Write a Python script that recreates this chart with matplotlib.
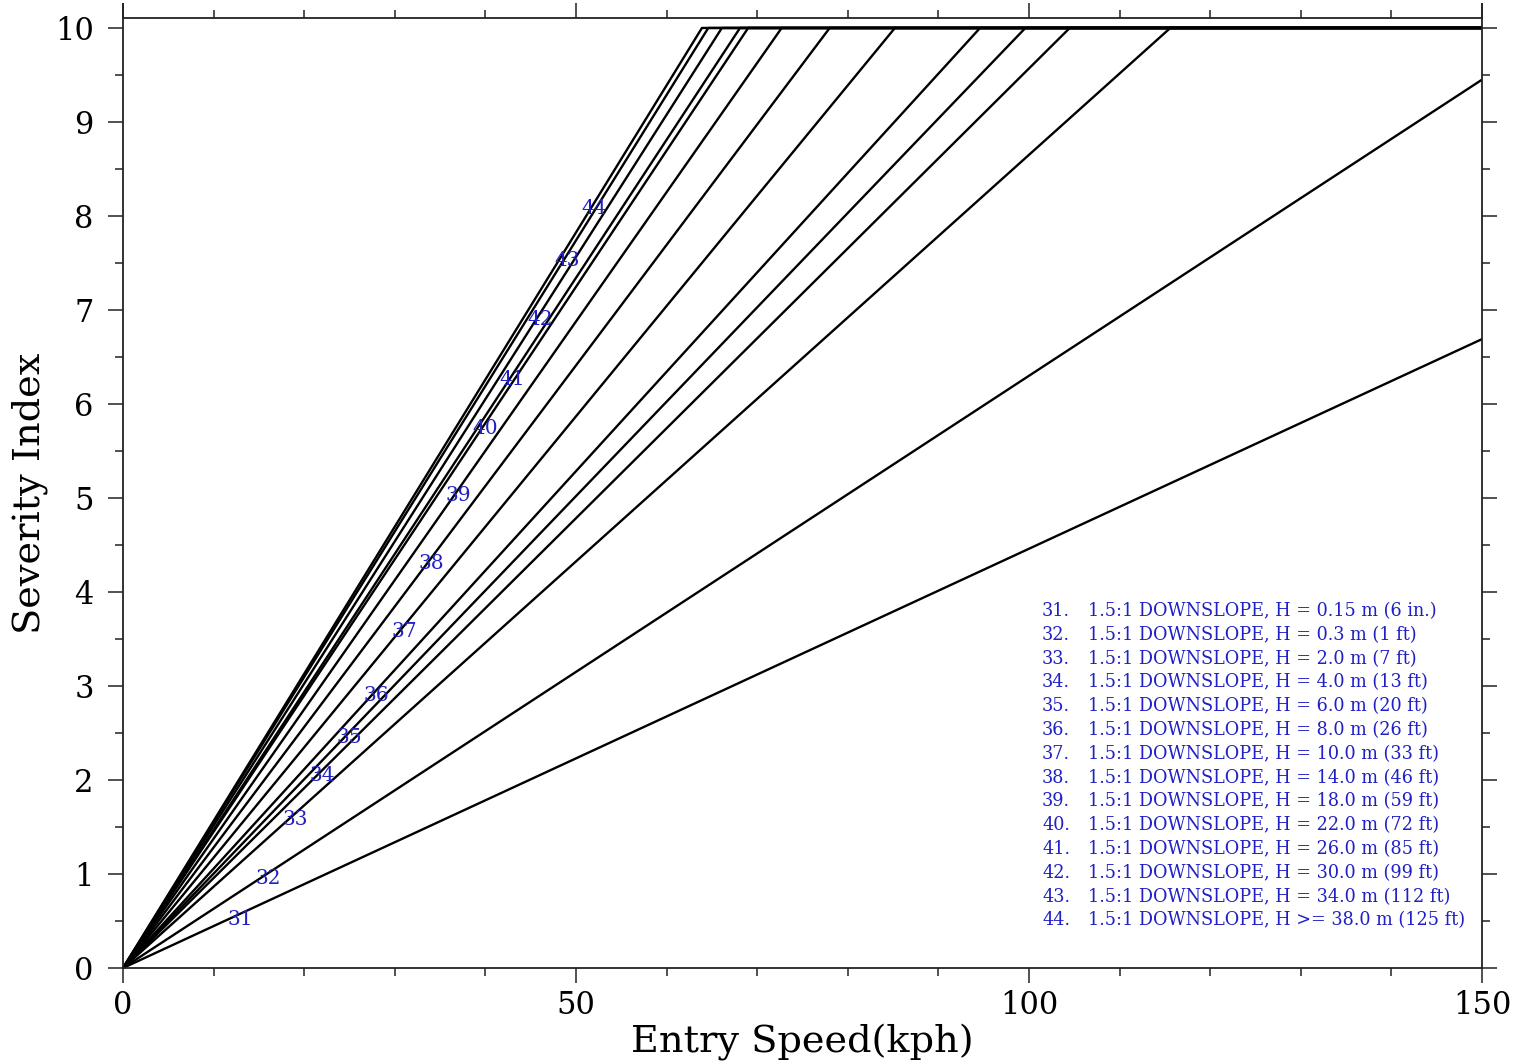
import numpy as np
import matplotlib
matplotlib.use("Agg")
import matplotlib.pyplot as plt
from matplotlib.ticker import MultipleLocator

# ---- data ----
curve_ids = [31, 32, 33, 34, 35, 36, 37, 38, 39, 40, 41, 42, 43, 44]
# speed (kph) where each curve reaches SI = 10 (None = never within 0-150)
cap_speed = [None, None, 115.6, 104.5, 99.6, 94.6, 85.2, 78.0, 72.7, 69.0, 68.1, 66.1, 64.6, 63.9]
# SI value at 150 kph for the curves that never reach the cap
si_at_150 = [6.69, 9.45, 10, 10, 10, 10, 10, 10, 10, 10, 10, 10, 10, 10]
label_speed = [13, 16, 19, 22, 25, 28, 31, 34, 37, 40, 43, 46, 49, 52]

legend_texts = [
    "1.5:1 DOWNSLOPE, H = 0.15 m (6 in.)",
    "1.5:1 DOWNSLOPE, H = 0.3 m (1 ft)",
    "1.5:1 DOWNSLOPE, H = 2.0 m (7 ft)",
    "1.5:1 DOWNSLOPE, H = 4.0 m (13 ft)",
    "1.5:1 DOWNSLOPE, H = 6.0 m (20 ft)",
    "1.5:1 DOWNSLOPE, H = 8.0 m (26 ft)",
    "1.5:1 DOWNSLOPE, H = 10.0 m (33 ft)",
    "1.5:1 DOWNSLOPE, H = 14.0 m (46 ft)",
    "1.5:1 DOWNSLOPE, H = 18.0 m (59 ft)",
    "1.5:1 DOWNSLOPE, H = 22.0 m (72 ft)",
    "1.5:1 DOWNSLOPE, H = 26.0 m (85 ft)",
    "1.5:1 DOWNSLOPE, H = 30.0 m (99 ft)",
    "1.5:1 DOWNSLOPE, H = 34.0 m (112 ft)",
    "1.5:1 DOWNSLOPE, H >= 38.0 m (125 ft)",
]

x_label = "Entry Speed(kph)"
y_label = "Severity Index"
x_max = 150
y_max = 10.106

BLUE = "#2020c4"
SERIF = ["DejaVu Serif"]

fig = plt.figure(figsize=(15.2, 10.64), dpi=100)
ax = fig.add_axes([123 / 1520, 1 - 968 / 1064, (1482 - 123) / 1520, (968 - 18) / 1064])

for cid, cap, end, lx in zip(curve_ids, cap_speed, si_at_150, label_speed):
    if cap is None:
        xs = [0, x_max]
        ys = [0, end]
    else:
        xs = [0, cap, x_max]
        ys = [0, 10, 10]
    ax.plot(xs, ys, color="black", lw=1.7, solid_capstyle="butt", clip_on=False)
    ly = np.interp(lx, xs, ys)
    ax.annotate(str(cid), (lx, ly), xytext=(0, -4), textcoords="offset points",
                ha="center", va="center", color=BLUE, fontsize=14.5, family=SERIF)

ax.set_xlim(0, x_max)
ax.set_ylim(0, y_max)

ax.xaxis.set_major_locator(MultipleLocator(50))
ax.xaxis.set_minor_locator(MultipleLocator(10))
ax.yaxis.set_major_locator(MultipleLocator(1))
ax.yaxis.set_minor_locator(MultipleLocator(0.5))
ax.tick_params(which="both", direction="out", top=True, right=True, width=1.1, color="#222222")
ax.tick_params(which="major", length=11)
ax.tick_params(which="minor", length=6)
ax.tick_params(axis="x", which="major", labelsize=22, pad=5)
ax.tick_params(axis="y", which="major", labelsize=22, pad=10)
for lab in ax.get_xticklabels() + ax.get_yticklabels():
    lab.set_family(SERIF)

for s in ax.spines.values():
    s.set_linewidth(1.3)
    s.set_color("#222222")
ax.spines["left"].set_bounds(0, 10.25)
ax.spines["right"].set_bounds(0, 10.25)

ax.set_xlabel(x_label, fontsize=27.5, family=SERIF, labelpad=2)
ax.set_ylabel(y_label, fontsize=27.5, family=SERIF, labelpad=5)

# legend block (text lines)
x_num = (1042 - 123) / 1359
x_txt = (1088 - 123) / 1359
y0 = (968 - 611) / 950
dy = 23.8 / 950
for i, (cid, txt) in enumerate(zip(curve_ids, legend_texts)):
    yy = y0 - i * dy
    ax.text(x_num, yy, f"{cid}.", transform=ax.transAxes, ha="left", va="center",
            color=BLUE, fontsize=12.7, family=SERIF)
    ax.text(x_txt, yy, txt, transform=ax.transAxes, ha="left", va="center",
            color=BLUE, fontsize=12.7, family=SERIF)

fig.savefig("out.png", dpi=100)
